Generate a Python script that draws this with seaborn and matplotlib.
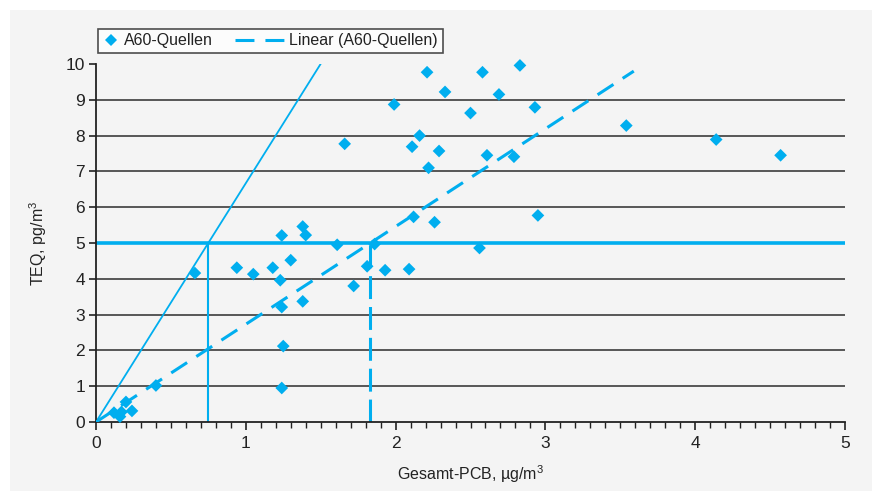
import numpy as np
import pandas as pd
import seaborn as sns
import matplotlib.pyplot as plt
from matplotlib.patches import Rectangle
from matplotlib.lines import Line2D
from matplotlib.legend_handler import HandlerLine2D

# A60-Quellen: Gesamt-PCB (µg/m³) vs TEQ (pg/m³)
pcb = [0.12, 0.16, 0.17, 0.20, 0.24, 0.40, 0.66, 0.94, 1.05, 1.18,
       1.23, 1.24, 1.30, 1.38, 1.40, 1.38, 1.24, 1.25, 1.24, 1.61,
       1.72, 1.81, 1.86, 1.93, 2.09, 2.12, 2.26, 1.66, 1.99, 2.21,
       2.58, 2.83, 2.33, 2.69, 2.50, 2.93, 3.54, 4.14, 4.57, 2.16,
       2.11, 2.29, 2.22, 2.61, 2.79, 2.95, 2.56]
teq = [0.26, 0.15, 0.28, 0.56, 0.31, 1.02, 4.16, 4.31, 4.13, 4.31,
       3.96, 5.21, 4.52, 5.46, 5.22, 3.37, 3.21, 2.12, 0.95, 4.95,
       3.80, 4.35, 4.97, 4.24, 4.27, 5.73, 5.58, 7.77, 8.87, 9.77,
       9.77, 9.96, 9.22, 9.15, 8.63, 8.79, 8.28, 7.89, 7.45, 8.00,
       7.69, 7.57, 7.10, 7.45, 7.41, 5.77, 4.86]

trend_slope = 2.73      # Linear (A60-Quellen), through origin
trend_x_end = 3.59
limit_teq = 5           # pg/m3 limit
ref_slope = 6.67        # steep reference line
ref_x_end = 1.5

df = pd.DataFrame({"Gesamt-PCB": pcb, "TEQ": teq})
blue = "#00aeef"
ink = "#222222"
trend_dash = (6.2, 3.6)


class LongLineHandler(HandlerLine2D):
    # legend line that reaches further left than the handle box
    def __init__(self, extra_left=0, **kw):
        super().__init__(**kw)
        self.extra_left = extra_left

    def get_xdata(self, legend, xdescent, ydescent, width, height, fontsize):
        xdata, xm = super().get_xdata(legend, xdescent, ydescent, width, height, fontsize)
        return np.array([-xdescent - self.extra_left, width - xdescent]), xm


sns.set_theme(style="white")
plt.rcParams['font.family'] = ['Liberation Sans', 'DejaVu Sans']
plt.rcParams['mathtext.fontset'] = 'custom'
plt.rcParams['mathtext.rm'] = 'Liberation Sans'
plt.rcParams['mathtext.it'] = 'Liberation Sans'

fig = plt.figure(figsize=(8.72, 4.91), dpi=100)
fig.patch.set_facecolor("white")
bg = Rectangle((10 / 872, 0), 1, 1 - 10 / 491, transform=fig.transFigure,
               facecolor="#f4f4f4", edgecolor="none", zorder=-10)
fig.add_artist(bg)
ax = fig.add_axes([96 / 872, 1 - 422 / 491, 749 / 872, 358 / 491])
ax.set_facecolor("none")

# grid lines
for g in range(1, 10):
    ax.axhline(g, color="#3c3c3c", lw=1.2, zorder=1)

# limit lines
ax.axhline(limit_teq, color=blue, lw=2.6, zorder=2)
ax.plot([limit_teq / ref_slope] * 2, [0, limit_teq], color=blue, lw=1.5, zorder=2)
ax.plot([limit_teq / trend_slope] * 2, [0, limit_teq], color=blue, lw=2.2,
        dashes=(7.5, 2.6), zorder=2)

# reference line
xr = np.array([0, ref_x_end])
ax.plot(xr, ref_slope * xr, color=blue, lw=1.3, zorder=2)

# trend line
xt = np.array([0, trend_x_end])
sns.lineplot(x=xt, y=trend_slope * xt, ax=ax, color=blue, lw=2.2, zorder=3)
ax.lines[-1].set_dashes(trend_dash)

sns.scatterplot(data=df, x="Gesamt-PCB", y="TEQ", ax=ax, marker="D", s=42,
                color=blue, edgecolor="none", zorder=4, clip_on=False)

ax.set_xlim(0, 5)
ax.set_ylim(0, 10)
ax.set_xticks(range(0, 6))
ax.set_xticks(np.arange(0, 5.01, 0.1), minor=True)
ax.set_yticks(range(0, 11))
ax.tick_params(axis="x", which="major", direction="out", length=6, width=1.2,
               color=ink, labelsize=12.5, labelcolor=ink, bottom=True, pad=4)
ax.tick_params(axis="x", which="minor", direction="out", length=4, width=1,
               color=ink, bottom=True)
ax.tick_params(axis="y", direction="out", length=5, width=1.2, color=ink,
               labelsize=12.5, labelcolor=ink, left=True, pad=3)
for side in ["top", "right"]:
    ax.spines[side].set_visible(False)
for side in ["left", "bottom"]:
    ax.spines[side].set_color(ink)
    ax.spines[side].set_linewidth(1.3)

ax.set_xlabel("Gesamt-PCB, µg/m$^{3}$", fontsize=11.5, color=ink, labelpad=9)
ax.set_ylabel("TEQ, pg/m$^{3}$", fontsize=11.5, color=ink, labelpad=12)

h_pts = Line2D([], [], marker="D", color=blue, ls="none", markersize=6.5, markeredgewidth=0)
h_fit = Line2D([], [], color=blue, lw=2.2, dashes=trend_dash)
leg = ax.legend([h_pts, h_fit], ["A60-Quellen", "Linear (A60-Quellen)"], ncol=2,
                handler_map={h_fit: LongLineHandler(extra_left=24.5)},
                loc="lower left", bbox_to_anchor=(0.003, 1.03), frameon=True,
                fancybox=False, fontsize=11.5, borderpad=0.3, handlelength=1.0,
                handletextpad=0.3, columnspacing=3.5, borderaxespad=0)
leg.get_frame().set_edgecolor(ink)
leg.get_frame().set_linewidth(1.2)
leg.get_frame().set_facecolor("white")
for t in leg.get_texts():
    t.set_color(ink)

fig.savefig("out.png", dpi=100)
